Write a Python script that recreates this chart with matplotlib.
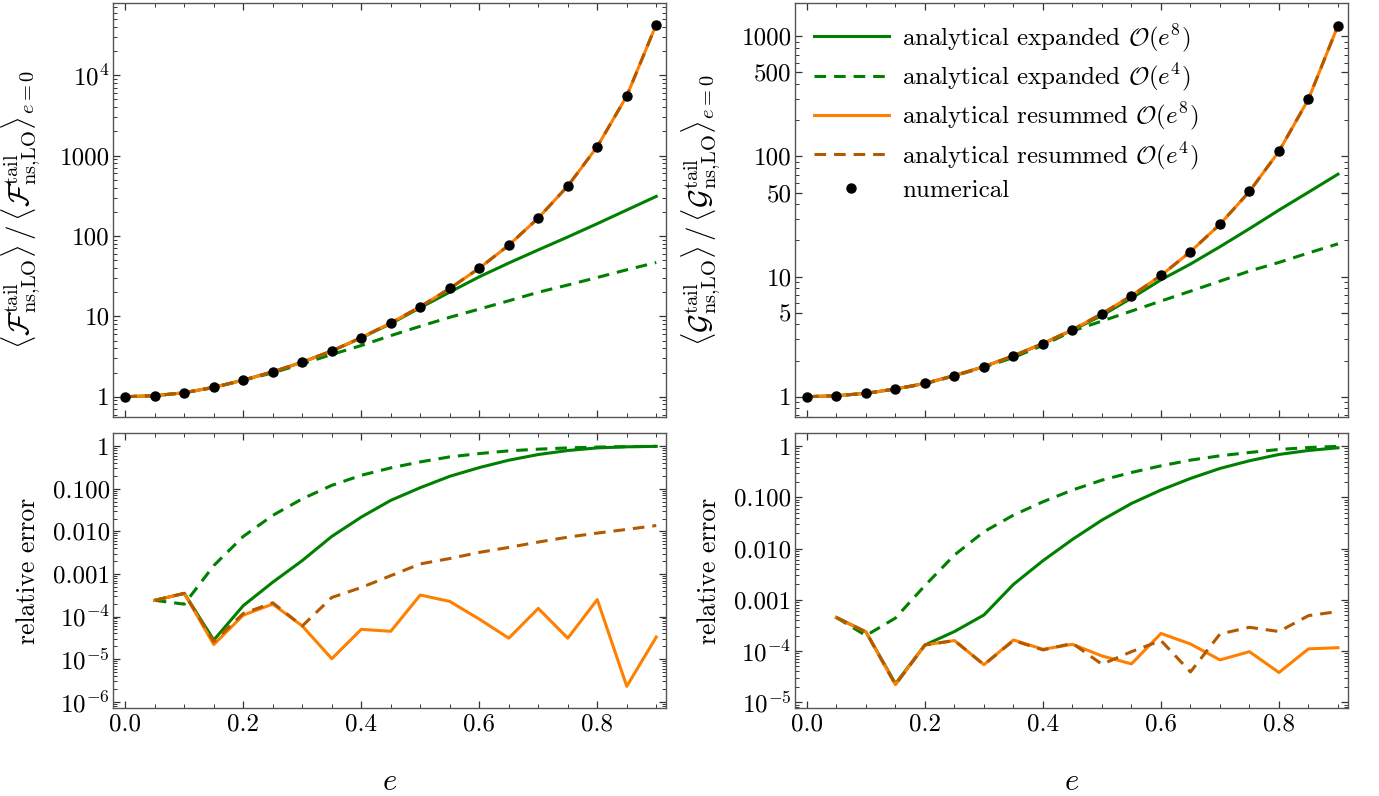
import numpy as np
import matplotlib
matplotlib.use("Agg")
import matplotlib.pyplot as plt
from matplotlib.ticker import FixedLocator, FixedFormatter, LogLocator, NullFormatter, MultipleLocator

plt.rcParams['font.family'] = 'serif'
plt.rcParams['font.serif'] = ['cmr10']
plt.rcParams['mathtext.fontset'] = 'cm'
plt.rcParams['axes.unicode_minus'] = False
plt.rcParams['axes.formatter.use_mathtext'] = True

# eccentricity grid
e = [0.0, 0.05, 0.1, 0.15, 0.2, 0.25, 0.3, 0.35, 0.4, 0.45,
     0.5, 0.55, 0.6, 0.65, 0.7, 0.75, 0.8, 0.85, 0.9]

# ---- F (left) ----
F_num = [1.0, 1.03, 1.12, 1.31, 1.61, 2.04, 2.69, 3.71, 5.44, 8.26,
         13.2, 22.2, 39.7, 76.6, 167, 417, 1290, 5500, 42600]
F_exp8 = [1.0, 1.03, 1.12, 1.31, 1.61, 2.04, 2.69, 3.70, 5.40, 8.10,
          12.8, 20.0, 31.0, 46.0, 67.0, 97.0, 142, 210, 310]
F_exp4 = [1.0, 1.03, 1.12, 1.30, 1.60, 1.98, 2.56, 3.35, 4.33, 5.75,
          7.52, 9.72, 12.3, 15.6, 19.9, 24.5, 30.4, 37.9, 46.7]

# relative errors (e >= 0.05)
e_err = e[1:]
F_err_exp8 = [2.4e-4, 3.5e-4, 2.8e-5, 1.8e-4, 6.4e-4, 2.06e-3, 7.6e-3, 0.0216, 0.0534,
              0.106, 0.196, 0.314, 0.468, 0.636, 0.79, 0.91, 0.965, 0.99]
F_err_exp4 = [2.4e-4, 1.95e-4, 1.57e-3, 7.6e-3, 0.0237, 0.058, 0.12, 0.207, 0.309,
              0.427, 0.56, 0.67, 0.776, 0.85, 0.91, 0.95, 0.975, 0.99]
F_err_res8 = [2.4e-4, 3.5e-4, 2.2e-5, 1.08e-4, 1.96e-4, 6.0e-5, 1.02e-5, 5.0e-5, 4.5e-5,
              3.2e-4, 2.26e-4, 8.7e-5, 3.1e-5, 1.55e-4, 3.1e-5, 2.5e-4, 2.3e-6, 3.3e-5]
F_err_res4 = [2.4e-4, 3.5e-4, 2.6e-5, 1.18e-4, 2.1e-4, 6.0e-5, 2.8e-4, 4.8e-4, 9.1e-4,
              1.72e-3, 2.3e-3, 3.2e-3, 4.2e-3, 5.6e-3, 7.3e-3, 9.1e-3, 0.0111, 0.0137]

# ---- G (right) ----
G_num = [1.0, 1.02, 1.067, 1.16, 1.29, 1.50, 1.78, 2.19, 2.77, 3.61,
         4.91, 6.92, 10.2, 16.1, 27.2, 51, 110, 299, 1225]
G_exp8 = [1.0, 1.02, 1.067, 1.16, 1.29, 1.50, 1.78, 2.19, 2.77, 3.58,
          4.75, 6.61, 9.38, 12.7, 17.7, 25.0, 35.7, 50.3, 71]
G_exp4 = [1.0, 1.02, 1.066, 1.16, 1.28, 1.49, 1.76, 2.12, 2.68, 3.52,
          4.26, 5.16, 6.25, 7.55, 9.15, 11.1, 13.1, 15.7, 18.7]

G_err_exp8 = [4.5e-4, 2.35e-4, 2.3e-5, 1.31e-4, 2.4e-4, 5.05e-4, 2.0e-3, 5.8e-3, 0.0151,
              0.036, 0.076, 0.139, 0.234, 0.367, 0.518, 0.688, 0.823, 0.928]
G_err_exp4 = [4.5e-4, 2.0e-4, 4.4e-4, 1.9e-3, 7.5e-3, 0.0213, 0.045, 0.082, 0.139,
              0.217, 0.306, 0.413, 0.533, 0.648, 0.752, 0.861, 0.94, 0.99]
G_err_res8 = [4.5e-4, 2.35e-4, 2.2e-5, 1.31e-4, 1.6e-4, 5.4e-5, 1.64e-4, 1.08e-4, 1.35e-4,
              8.0e-5, 5.6e-5, 2.2e-4, 1.37e-4, 6.7e-5, 9.7e-5, 3.8e-5, 1.1e-4, 1.16e-4]
G_err_res4 = [4.5e-4, 2.35e-4, 2.2e-5, 1.31e-4, 1.6e-4, 5.4e-5, 1.6e-4, 1.05e-4, 1.41e-4,
              5.5e-5, 9.7e-5, 1.6e-4, 3.9e-5, 2.15e-4, 2.9e-4, 2.4e-4, 4.9e-4, 5.9e-4]

labels = [r'analytical expanded $\mathcal{O}(e^8)$',
          r'analytical expanded $\mathcal{O}(e^4)$',
          r'analytical resummed $\mathcal{O}(e^8)$',
          r'analytical resummed $\mathcal{O}(e^4)$',
          'numerical']

green = '#008000'
orange = '#ff8000'
brown = '#b35a00'
lw = 2.2
dash = (3.8, 2.6)

fig = plt.figure(figsize=(13.79, 7.96), dpi=100)
W, H = 1379, 796
lefts = [113.3 / W, 795 / W]
width = 552.7 / W
ax_tl = fig.add_axes([lefts[0], 1 - 416.7 / H, width, 413.4 / H])
ax_tr = fig.add_axes([lefts[1], 1 - 416.7 / H, width, 413.4 / H])
ax_bl = fig.add_axes([lefts[0], 1 - 708.3 / H, width, 275.6 / H])
ax_br = fig.add_axes([lefts[1], 1 - 708.3 / H, width, 275.6 / H])


def style(ax):
    ax.set_yscale('log')
    ax.set_xlim(-0.0203, 0.9165)
    ax.xaxis.set_major_locator(MultipleLocator(0.2))
    ax.xaxis.set_minor_locator(MultipleLocator(0.05))
    ax.yaxis.set_minor_locator(LogLocator(base=10, subs=np.arange(2, 10), numticks=30))
    ax.yaxis.set_minor_formatter(NullFormatter())
    ax.tick_params(which='both', direction='in', top=True, right=True,
                   labelsize=18, color='#333333')
    ax.tick_params(which='major', length=5, width=0.9)
    ax.tick_params(which='minor', length=3, width=0.7)
    ax.tick_params(axis='y', which='major', pad=2.5)
    for s in ax.spines.values():
        s.set_color('#555555')
        s.set_linewidth(1.0)


for ax in (ax_tl, ax_tr, ax_bl, ax_br):
    style(ax)


def top_panel(ax, num, exp8, exp4):
    ax.plot(e, exp8, color=green, lw=lw, label=labels[0])
    ax.plot(e, exp4, color=green, lw=lw, dashes=dash, label=labels[1])
    ax.plot(e, num, color=orange, lw=lw, label=labels[2])
    ax.plot(e, num, color=brown, lw=lw, dashes=dash, label=labels[3])
    ax.plot(e, num, 'o', color='black', ms=6.5, ls='none', label=labels[4], zorder=5)
    ax.tick_params(labelbottom=False)


def bottom_panel(ax, r8, r4, s8, s4):
    ax.plot(e_err, r8, color=green, lw=lw)
    ax.plot(e_err, r4, color=green, lw=lw, dashes=dash)
    ax.plot(e_err, s8, color=orange, lw=lw)
    ax.plot(e_err, s4, color=brown, lw=lw, dashes=dash)
    ax.set_xlabel(r'$e$', fontsize=22, labelpad=24)
    ax.set_ylabel('relative error', fontsize=18.5)
    ax.yaxis.set_label_coords(-0.133, 0.5)


top_panel(ax_tl, F_num, F_exp8, F_exp4)
top_panel(ax_tr, G_num, G_exp8, G_exp4)
bottom_panel(ax_bl, F_err_exp8, F_err_exp4, F_err_res8, F_err_res4)
bottom_panel(ax_br, G_err_exp8, G_err_exp4, G_err_res8, G_err_res4)

# y limits and tick labels
ax_tl.set_ylim(0.564, 78200)
ax_tl.yaxis.set_major_locator(FixedLocator([1, 10, 100, 1000, 1e4]))
ax_tl.yaxis.set_major_formatter(FixedFormatter(['1', '10', '100', '1000', r'$10^4$']))
ax_tl.set_ylabel(r'$\langle\mathcal{F}^{\rm tail}_{\rm ns{,}LO}\rangle\,/\,'
                 r'\langle\mathcal{F}^{\rm tail}_{\rm ns{,}LO}\rangle_{e=0}$', fontsize=21)
ax_tl.yaxis.set_label_coords(-0.127, 0.5)

ax_tr.set_ylim(0.682, 1875)
ax_tr.yaxis.set_major_locator(FixedLocator([1, 5, 10, 50, 100, 500, 1000]))
ax_tr.yaxis.set_major_formatter(FixedFormatter(['1', '5', '10', '50', '100', '500', '1000']))
ax_tr.set_ylabel(r'$\langle\mathcal{G}^{\rm tail}_{\rm ns{,}LO}\rangle\,/\,'
                 r'\langle\mathcal{G}^{\rm tail}_{\rm ns{,}LO}\rangle_{e=0}$', fontsize=21)
ax_tr.yaxis.set_label_coords(-0.130, 0.5)

ax_bl.set_ylim(7e-7, 2.07)
ax_bl.yaxis.set_major_locator(FixedLocator([1, 0.1, 0.01, 0.001, 1e-4, 1e-5, 1e-6]))
ax_bl.yaxis.set_major_formatter(FixedFormatter(
    ['1', '0.100', '0.010', '0.001', r'$10^{-4}$', r'$10^{-5}$', r'$10^{-6}$']))

ax_br.set_ylim(7.6e-6, 1.83)
ax_br.yaxis.set_major_locator(FixedLocator([1, 0.1, 0.01, 0.001, 1e-4, 1e-5]))
ax_br.yaxis.set_major_formatter(FixedFormatter(
    ['1', '0.100', '0.010', '0.001', r'$10^{-4}$', r'$10^{-5}$']))

for ax in (ax_bl, ax_br):
    ax.xaxis.set_major_formatter(FixedFormatter(['0.0', '0.2', '0.4', '0.6', '0.8']))
    ax.xaxis.set_major_locator(FixedLocator([0.0, 0.2, 0.4, 0.6, 0.8]))

ax_tr.legend(loc='upper left', frameon=False, fontsize=18, handlelength=3.0,
             handletextpad=0.55, labelspacing=0.3, borderaxespad=0.35,
             bbox_to_anchor=(0.0, 1.0))

fig.savefig('out.png', dpi=100)
